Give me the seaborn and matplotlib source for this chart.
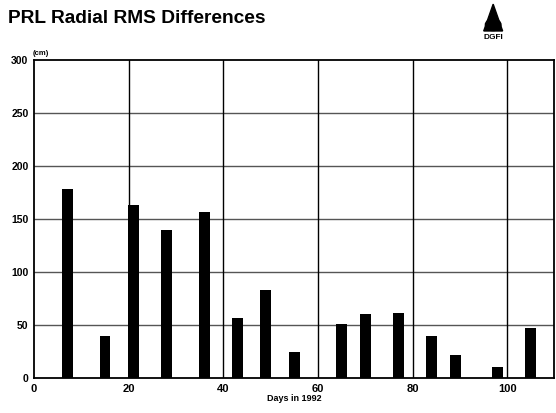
import matplotlib
matplotlib.use("Agg")
import matplotlib.pyplot as plt
import seaborn as sns
import pandas as pd
from matplotlib.patches import Polygon, Circle

days = [7, 15, 21, 28, 36, 43, 49, 55, 65, 70, 77, 84, 89, 98, 105]
rms_cm = [178, 40, 163, 140, 157, 57, 83, 25, 51, 60, 61, 40, 22, 10, 47]
x_ticks = [0, 20, 40, 60, 80, 100]
y_ticks = [0, 50, 100, 150, 200, 250, 300]

df = pd.DataFrame({"day": days, "rms": rms_cm})

sns.set_style("white")
plt.rcParams["font.family"] = ["Liberation Sans", "DejaVu Sans"]
plt.rcParams["text.color"] = "black"
plt.rcParams["xtick.color"] = "black"
plt.rcParams["ytick.color"] = "black"
plt.rcParams["axes.labelcolor"] = "black"

fig = plt.figure(figsize=(5.56, 4.13), dpi=100)
ax = fig.add_axes([0.0612, 0.0847, 0.936, 0.770])

sns.barplot(data=df, x="day", y="rms", native_scale=True, width=0.46,
            color="black", saturation=1, ax=ax, edgecolor="black", linewidth=0)

ax.set_xlim(0, 110)
ax.set_ylim(0, 300)
ax.set_xticks(x_ticks)
ax.set_yticks(y_ticks)
ax.set_xticklabels([str(t) for t in x_ticks], fontsize=8, fontweight="bold")
ax.set_yticklabels([str(t) for t in y_ticks], fontsize=7.5, fontweight="bold")
ax.tick_params(axis="both", length=3, width=1, color="black", pad=1, direction="out")
ax.tick_params(axis="x", length=0, pad=4)

for y in y_ticks[1:-1]:
    ax.axhline(y, color="#555555", lw=1.0, zorder=0)
for x in x_ticks[1:]:
    ax.axvline(x, color="black", lw=1.0, zorder=0)

for s in ax.spines.values():
    s.set_color("black")
    s.set_linewidth(1.3)
    s.set_visible(True)

ax.set_xlabel("Days in 1992", fontsize=6.5, fontweight="bold", labelpad=0)
ax.set_ylabel("")
ax.text(-0.2, 303, "(cm)", fontsize=5.5, fontweight="bold", ha="left", va="bottom")

fig.text(0.014, 0.955, "PRL Radial RMS Differences", fontsize=13.8, fontweight="heavy",
         ha="left", va="center")

# DGFI logo
tri = Polygon([[0.887, 0.990], [0.870, 0.925], [0.904, 0.925]], closed=True,
              transform=fig.transFigure, color="black")
fig.add_artist(tri)
fig.add_artist(Circle((0.887, 0.940), 0.014, transform=fig.transFigure, color="black"))
fig.text(0.887, 0.918, "DGFI", fontsize=6, fontweight="bold", ha="center", va="top")

fig.savefig("out.png", dpi=100)
